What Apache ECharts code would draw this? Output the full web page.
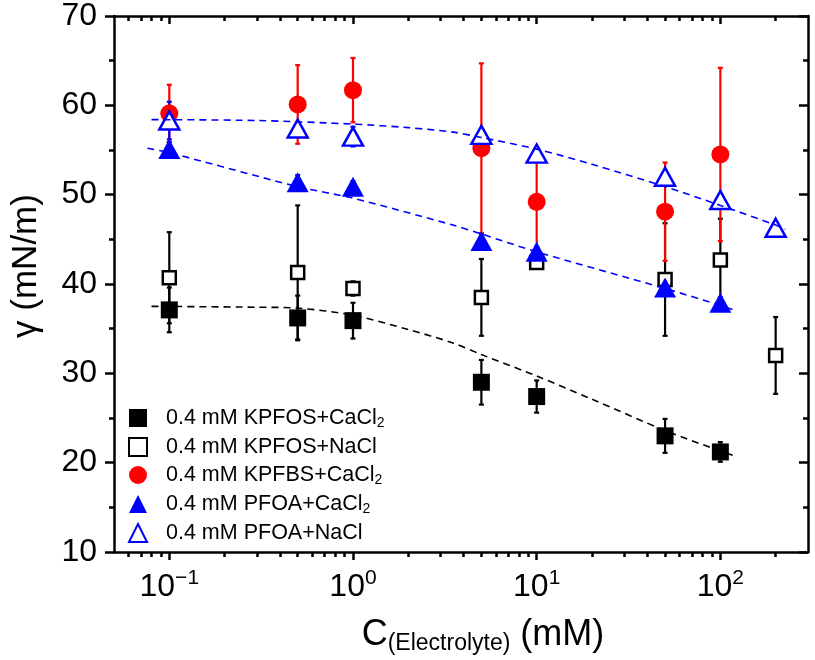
<!DOCTYPE html>
<html>
<head>
<meta charset="utf-8">
<script src="https://cdn.jsdelivr.net/npm/echarts@6/dist/echarts.min.js"></script>
<style>
  html, body { margin: 0; padding: 0; background: #fff; }
  #chart { width: 815px; height: 660px; }
</style>
</head>
<body>
<div id="chart"></div>
<script>
// electrolyte concentrations (mM)
const conc = [0.1, 0.5, 1, 5, 10, 50, 100]
const concNaCl = [0.1, 0.5, 1, 5, 10, 50, 100, 200]

// surface tension (mN/m) and error bars
const kpfosCa = [37.1, 36.2, 35.9, 29.0, 27.4, 23.0, 21.2]
const kpfosCaErr = [2.5, 2.5, 2.0, 2.5, 1.8, 1.9, 1.1]
const kpfosNa = [40.7, 41.3, 39.5, 38.5, 42.4, 40.5, 42.7, 32.0]
const kpfosNaErr = [5.1, 7.5, 0.8, 4.3, 0.6, 6.3, 4.6, 4.3]
const kpfbsCa = [59.1, 60.1, 61.7, 55.2, 49.2, 48.1, 54.5]
const kpfbsCaErr = [3.2, 4.4, 3.6, 9.5, 5.8, 5.5, 9.7]
const pfoaCa = [55.1, 51.4, 50.9, 44.8, 43.6, 39.6, 37.9]
const pfoaCaErr = [0.8, 0.8, 0.6, 0.8, 0.6, 0.6, 0.6]
const pfoaNa = [58.3, 57.4, 56.5, 56.7, 54.6, 52.0, 49.4, 46.3]
const pfoaNaErr = [2.1, 0.6, 1.1, 0.5, 0.6, 0.5, 0.6, 0.5]

// dashed fit curves
const fitKpfosX = [0.08, 0.3, 0.5, 1, 2, 3.5, 5, 10, 20, 50, 100, 122]
const fitKpfosY = [37.5, 37.4, 37.3, 36.5, 34.9, 33.4, 32.1, 29.7, 27.1, 23.6, 21.3, 20.7]
const fitPfoaNaX = [0.08, 0.3, 1, 2, 3.5, 5, 10, 20, 50, 100, 200, 226]
const fitPfoaNaY = [58.4, 58.3, 57.9, 57.5, 57.0, 56.4, 55.1, 53.4, 50.9, 48.8, 46.6, 46.1]
const fitPfoaCaX = [0.076, 0.1, 0.5, 1, 3.5, 5, 10, 50, 100, 122]
const fitPfoaCaY = [55.2, 54.7, 50.9, 49.6, 46.6, 45.6, 43.6, 39.5, 37.6, 37.0]

// axis ticks
const xMajor = [0.1, 1, 10, 100]
const xMinor = [0.06, 0.07, 0.08, 0.09, 0.2, 0.3, 0.4, 0.5, 0.6, 0.7, 0.8, 0.9,
  2, 3, 4, 5, 6, 7, 8, 9, 20, 30, 40, 50, 60, 70, 80, 90, 200]

const names = [
  '0.4 mM KPFOS+CaCl2',
  '0.4 mM KPFOS+NaCl',
  '0.4 mM KPFBS+CaCl2',
  '0.4 mM PFOA+CaCl2',
  '0.4 mM PFOA+NaCl',
]

const FONT = '"Liberation Sans", Arial, Helvetica, sans-serif'
const BLACK = '#000000'
const RED = '#ff0000'
const BLUE = '#0000ff'

const lg = (v) => Math.log10(v)
const pts = (xs, ys) => xs.map((x, i) => [lg(x), ys[i]])
const errPts = (xs, ys, es) => xs.map((x, i) => [lg(x), ys[i] - es[i], ys[i] + es[i]])

const errorBar = (color) => (params, api) => {
  const x = api.value(0)
  const top = api.coord([x, api.value(2)])
  const bot = api.coord([x, api.value(1)])
  const cap = 2.5
  const style = { stroke: color, lineWidth: 2.2 }
  return {
    type: 'group',
    children: [
      { type: 'line', shape: { x1: top[0], y1: top[1], x2: bot[0], y2: bot[1] }, style },
      { type: 'line', shape: { x1: top[0] - cap, y1: top[1], x2: top[0] + cap, y2: top[1] }, style },
      { type: 'line', shape: { x1: bot[0] - cap, y1: bot[1], x2: bot[0] + cap, y2: bot[1] }, style },
    ],
  }
}

const errSeries = (data, color) => ({
  type: 'custom',
  renderItem: errorBar(color),
  data,
  encode: { x: 0, y: [1, 2] },
  silent: true,
})

const fitSeries = (data, color) => ({
  type: 'line',
  data,
  showSymbol: false,
  smooth: 0.3,
  silent: true,
  lineStyle: { color, width: 1.6, type: [7, 5] },
})

const xBase = {
  type: 'value',
  min: lg(0.05),
  max: lg(300),
  splitLine: { show: false },
  axisLine: { show: true, onZero: false, lineStyle: { color: BLACK, width: 2.5 } },
}

const majorTick = (inside) => ({
  show: true, inside, length: 8, customValues: xMajor.map(lg),
  lineStyle: { color: BLACK, width: 2.5 },
})
const minorTick = (inside) => ({
  show: true, inside, length: 5, customValues: xMinor.map(lg),
  lineStyle: { color: BLACK, width: 2.5 },
})

const yBase = {
  type: 'value',
  min: 10,
  max: 70,
  interval: 10,
  splitLine: { show: false },
  axisLine: { show: true, onZero: false, lineStyle: { color: BLACK, width: 2.5 } },
  minorTick: { show: true, splitNumber: 2, length: 5, lineStyle: { color: BLACK, width: 2.5 } },
}

const chart = echarts.init(document.getElementById('chart'), null, { renderer: 'canvas' })

chart.setOption({
  animation: false,
  backgroundColor: '#ffffff',
  textStyle: { fontFamily: FONT, color: BLACK },
  grid: { left: 108, right: 7, top: 15, bottom: 107, show: false },
  xAxis: [
    {
      ...xBase,
      position: 'bottom',
      axisTick: majorTick(false),
      axisLabel: {
        customValues: xMajor.map(lg),
        margin: 16,
        formatter: (v) => {
          const e = Math.round(v)
          return '{b|10}{s|' + (e < 0 ? '\u2212' + (-e) : e) + '}'
        },
        rich: {
          b: { fontSize: 32, lineHeight: 38, fontFamily: FONT, color: BLACK },
          s: { fontSize: 21, lineHeight: 21, verticalAlign: 'top', fontFamily: FONT, color: BLACK },
        },
      },
      name: '{c|C}{s|(Electrolyte)}{c| (mM)}',
      nameLocation: 'middle',
      nameGap: 63,
      nameTextStyle: {
        padding: [0, 0, 0, 44],
        rich: {
          c: { fontSize: 36, lineHeight: 40, fontFamily: FONT, color: BLACK },
          s: { fontSize: 23, lineHeight: 21, verticalAlign: 'bottom', fontFamily: FONT, color: BLACK },
        },
      },
    },
    { ...xBase, position: 'bottom', axisLine: { show: false }, axisTick: minorTick(false), axisLabel: { show: false } },
    { ...xBase, position: 'top', axisTick: majorTick(true), axisLabel: { show: false } },
    { ...xBase, position: 'top', axisLine: { show: false }, axisTick: minorTick(true), axisLabel: { show: false } },
  ],
  yAxis: [
    {
      ...yBase,
      position: 'left',
      axisTick: { show: true, length: 9, lineStyle: { color: BLACK, width: 2.5 } },
      axisLabel: { fontSize: 32, color: BLACK, margin: 17, fontFamily: FONT },
      name: '\u03b3 (mN/m)',
      nameLocation: 'middle',
      nameRotate: 90,
      nameGap: 70,
      nameTextStyle: { fontSize: 35, lineHeight: 36, color: BLACK, fontFamily: FONT, padding: [0, 0, 0, 36] },
    },
    {
      ...yBase,
      position: 'right',
      axisTick: { show: true, inside: true, length: 9, lineStyle: { color: BLACK, width: 2.5 } },
      axisLabel: { show: false },
    },
  ],
  legend: {
    orient: 'vertical',
    left: 128,
    top: 407,
    padding: 0,
    itemGap: 6,
    itemWidth: 18,
    itemHeight: 18,
    data: names,
    formatter: (name) => name.endsWith('CaCl2')
      ? '{a|' + name.slice(0, -1) + '}{sub|2}'
      : '{a|' + name + '}',
    textStyle: {
      rich: {
        a: { fontSize: 21.5, lineHeight: 24, padding: [0, 0, 0, 14], fontFamily: FONT, color: BLACK },
        sub: { fontSize: 14, lineHeight: 11, verticalAlign: 'bottom', fontFamily: FONT, color: BLACK },
      },
    },
  },
  series: [
    fitSeries(pts(fitKpfosX, fitKpfosY), BLACK),
    fitSeries(pts(fitPfoaNaX, fitPfoaNaY), BLUE),
    fitSeries(pts(fitPfoaCaX, fitPfoaCaY), BLUE),

    errSeries(errPts(conc, kpfosCa, kpfosCaErr), BLACK),
    {
      name: names[0], type: 'scatter', symbol: 'rect', symbolSize: 17,
      data: pts(conc, kpfosCa), itemStyle: { color: BLACK, opacity: 1 },
    },
    errSeries(errPts(concNaCl, kpfosNa, kpfosNaErr), BLACK),
    {
      name: names[1], type: 'scatter', symbol: 'rect', symbolSize: 13,
      data: pts(concNaCl, kpfosNa),
      itemStyle: { color: '#ffffff', borderColor: BLACK, borderWidth: 2.5, opacity: 1 },
    },
    errSeries(errPts(conc, kpfbsCa, kpfbsCaErr), RED),
    {
      name: names[2], type: 'scatter', symbol: 'circle', symbolSize: 18,
      data: pts(conc, kpfbsCa), itemStyle: { color: RED, opacity: 1 },
    },
    errSeries(errPts(conc, pfoaCa, pfoaCaErr), BLUE),
    {
      name: names[3], type: 'scatter', symbol: 'triangle', symbolSize: [22, 20],
      data: pts(conc, pfoaCa), itemStyle: { color: BLUE, opacity: 1 },
    },
    errSeries(errPts(concNaCl, pfoaNa, pfoaNaErr), BLUE),
    {
      name: names[4], type: 'scatter', symbol: 'triangle', symbolSize: [20, 18],
      data: pts(concNaCl, pfoaNa),
      itemStyle: { color: '#ffffff', borderColor: BLUE, borderWidth: 2.5, opacity: 1 },
    },
  ],
})
</script>
</body>
</html>
